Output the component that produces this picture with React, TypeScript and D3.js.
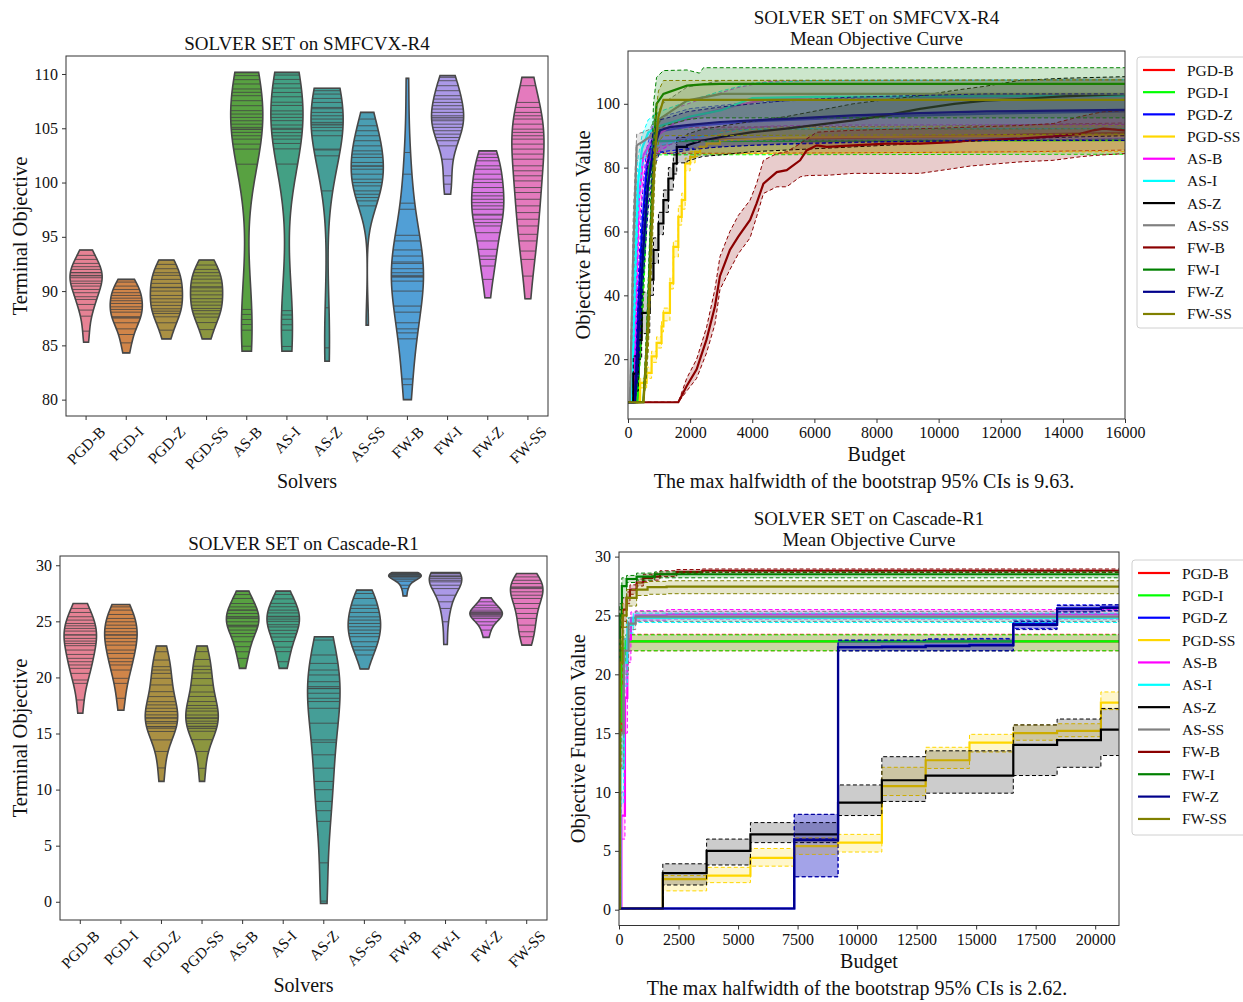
import React, { useEffect, useRef } from 'react';
import * as d3 from 'd3';

const FONT = "'Liberation Serif', 'Times New Roman', serif";

const solvers = ['PGD-B', 'PGD-I', 'PGD-Z', 'PGD-SS', 'AS-B', 'AS-I', 'AS-Z', 'AS-SS', 'FW-B', 'FW-I', 'FW-Z', 'FW-SS'];
const curveColors = ['#ff0000', '#00ff00', '#0000ff', '#ffd700', '#ff00ff', '#00ffff', '#000000', '#808080', '#8b0000', '#008000', '#00008b', '#808000'];
const violinBase = ['#f77189', '#e68332', '#bb9832', '#97a431', '#50b131', '#34af8a', '#36ada4', '#38a9c5', '#3ba3ec', '#a48cf4', '#e866f4', '#f668c2'];

// tick labels
const r4ViolinTicks = [80, 85, 90, 95, 100, 105, 110];
const r1ViolinTicks = [0, 5, 10, 15, 20, 25, 30];
const r4CurveYTicks = [20, 40, 60, 80, 100];
const r4CurveXTicks = [0, 2000, 4000, 6000, 8000, 10000, 12000, 14000, 16000];
const r1CurveYTicks = [0, 5, 10, 15, 20, 25, 30];
const r1CurveXTicks = [0, 2500, 5000, 7500, 10000, 12500, 15000, 17500, 20000];

// terminal objectives, SMFCVX-R4
const r4v_PGD_B = [93.78, 93.29, 92.92, 92.55, 92.25, 92.0, 91.7, 91.69, 91.45, 91.4, 91.23, 90.92, 90.71, 90.46, 90.15, 89.85, 89.48, 89.23, 88.77, 88.25, 87.69, 86.31, 85.29];
const r4v_PGD_I = [91.08, 90.83, 90.46, 90.15, 89.85, 89.6, 89.35, 89.11, 88.86, 88.55, 88.31, 88.06, 87.63, 87.6, 87.51, 87.08, 86.52, 86.0, 85.23, 84.31];
const r4v_PGD_Z = [92.86, 92.46, 92.06, 91.69, 91.45, 91.08, 90.71, 90.35, 90.31, 90.0, 89.6, 89.29, 88.98, 88.68, 88.37, 88.15, 87.94, 87.63, 87.08, 86.4, 85.6];
const r4v_PGD_SS = [92.86, 92.4, 92.0, 91.7, 91.4, 91.1, 90.75, 90.4, 90.3, 90.0, 89.65, 89.3, 89.0, 88.7, 88.4, 88.2, 87.9, 87.6, 87.1, 86.45, 85.6];
const r4v_AS_B = [110.15, 109.85, 109.48, 109.08, 108.62, 108.31, 108.0, 107.54, 107.08, 106.62, 106.31, 106.0, 105.69, 105.38, 105.08, 104.92, 104.9, 104.62, 104.31, 104.0, 103.54, 103.08, 101.69, 88.31, 87.85, 87.38, 86.92, 86.4, 84.92, 84.46];
const r4v_AS_I = [110.15, 109.9, 109.5, 109.1, 108.7, 108.3, 107.9, 107.4, 107.1, 106.6, 106.3, 106.0, 105.7, 105.3, 105.0, 104.9, 104.6, 104.3, 104.0, 103.6, 103.1, 101.7, 88.2, 87.8, 87.4, 86.9, 86.4, 84.9, 84.46];
const r4v_AS_Z = [108.68, 108.46, 108.15, 107.75, 107.38, 106.92, 106.8, 106.46, 106.15, 105.85, 105.54, 105.38, 105.3, 105.08, 104.77, 104.31, 103.08, 103.0, 102.46, 99.23, 88.46, 84.77, 83.54];
const r4v_AS_SS = [106.46, 105.85, 105.23, 104.77, 104.31, 103.85, 103.38, 102.92, 102.62, 102.31, 101.85, 101.54, 101.5, 101.23, 100.77, 100.31, 100.0, 99.69, 99.23, 98.92, 98.62, 98.31, 97.85, 86.86];
const r4v_FW_B = [109.6, 102.77, 100.77, 98.1, 97.54, 95.14, 94.62, 93.79, 93.23, 92.68, 92.55, 92.06, 91.69, 91.45, 91.32, 91.3, 90.92, 90.0, 88.62, 88.06, 87.08, 86.52, 86.15, 85.6, 81.9, 81.38, 80.0];
const r4v_FW_I = [109.85, 109.69, 109.38, 108.92, 108.46, 108.0, 107.69, 107.38, 107.08, 106.77, 106.46, 106.15, 106.0, 105.85, 105.69, 105.38, 105.08, 104.77, 104.46, 104.15, 103.85, 103.38, 102.15, 100.62, 99.85, 98.92];
const r4v_FW_Z = [102.92, 102.62, 102.31, 102.0, 101.54, 101.23, 100.77, 100.31, 100.0, 99.54, 99.08, 98.77, 98.46, 98.15, 97.85, 97.54, 97.08, 97.0, 96.62, 96.31, 96.0, 95.38, 94.62, 93.85, 93.23, 92.92, 92.31, 91.08, 89.38];
const r4v_FW_SS = [109.69, 108.92, 107.38, 106.92, 106.46, 106.15, 105.85, 105.38, 104.92, 104.62, 104.31, 104.0, 103.54, 103.08, 102.62, 102.15, 101.54, 101.08, 100.62, 100.15, 99.54, 99.08, 98.46, 97.85, 97.23, 96.62, 96.0, 95.23, 94.62, 93.69, 92.92, 91.38, 89.29];

// terminal objectives, Cascade-R1
const r1v_PGD_B = [26.59, 26.15, 25.79, 25.41, 25.11, 24.81, 24.6, 24.37, 24.13, 23.8, 23.78, 23.48, 23.24, 23.03, 22.83, 22.44, 22.05, 21.7, 21.4, 21.11, 20.81, 20.36, 19.77, 19.47, 17.99, 16.81];
const r1v_PGD_I = [26.5, 26.29, 26.0, 25.61, 25.26, 24.96, 24.66, 24.37, 24.07, 23.8, 23.77, 23.48, 23.18, 22.88, 22.44, 22.14, 21.7, 21.4, 21.11, 20.66, 19.92, 19.47, 18.14, 17.07];
const r1v_PGD_Z = [22.8, 22.29, 21.55, 20.96, 20.66, 20.36, 19.92, 19.33, 18.73, 18.29, 17.84, 17.55, 17.25, 16.96, 16.66, 16.4, 16.37, 16.07, 15.92, 15.62, 15.6, 15.47, 15.18, 14.43, 13.4, 11.93, 10.73];
const r1v_PGD_SS = [22.8, 22.3, 21.6, 21.0, 20.7, 20.4, 19.9, 19.3, 18.7, 18.3, 17.85, 17.5, 17.25, 17.0, 16.65, 16.4, 16.35, 16.1, 15.9, 15.65, 15.6, 15.45, 15.2, 14.45, 13.4, 11.9, 10.73];
const r1v_AS_B = [27.69, 27.39, 27.04, 26.59, 26.29, 26.0, 26.0, 25.7, 25.4, 25.4, 25.26, 24.96, 24.66, 24.6, 24.51, 24.22, 23.92, 23.63, 23.18, 22.74, 22.29, 21.7, 20.81];
const r1v_AS_I = [27.69, 27.4, 27.0, 26.6, 26.3, 26.0, 25.75, 25.45, 25.4, 25.2, 25.0, 24.7, 24.5, 24.2, 23.9, 23.6, 23.2, 22.7, 22.3, 21.4, 20.81];
const r1v_AS_Z = [23.63, 23.33, 22.0, 21.25, 20.66, 20.22, 19.62, 19.18, 19.03, 19.0, 18.59, 18.14, 17.85, 17.25, 15.92, 14.43, 14.22, 13.1, 11.91, 10.73, 9.99, 8.95, 8.12, 7.17, 3.47, 0.06, -0.15];
const r1v_AS_SS = [27.78, 27.48, 27.04, 26.44, 26.15, 25.79, 25.4, 25.11, 24.81, 24.52, 24.22, 23.92, 23.63, 23.18, 22.74, 22.44, 22.0, 20.75];
const r1v_FW_B = [29.35, 29.3, 29.26, 29.2, 29.17, 29.1, 29.05, 29.0, 28.96, 28.87, 28.75, 28.58, 28.22, 27.92, 27.27];
const r1v_FW_I = [29.35, 29.3, 29.26, 29.11, 29.0, 28.96, 28.81, 28.66, 28.52, 28.22, 27.92, 27.33, 26.74, 26.15, 24.96, 22.94];
const r1v_FW_Z = [27.09, 26.74, 26.44, 26.21, 26.0, 25.85, 25.79, 25.7, 25.61, 25.5, 25.4, 25.26, 24.96, 24.66, 24.22, 23.57];
const r1v_FW_SS = [29.26, 28.96, 28.66, 28.37, 28.07, 28.0, 27.92, 27.63, 27.33, 27.04, 26.59, 26.15, 25.7, 25.26, 24.66, 24.07, 23.63, 22.88];

// mean objective curves, SMFCVX-R4: [budget, mean, lower CI, upper CI]
const r4c_PGD_B = [[0, 6.5, 6.5, 6.5], [300, 6.5, 6.5, 6.5], [450, 40, 30, 50], [600, 75, 65, 82], [750, 86, 82, 90], [900, 88.3, 84.5, 92.5], [3000, 88.8, 84.5, 92.7], [6000, 89.2, 84.6, 92.8], [10000, 89.8, 84.8, 93], [13000, 90.4, 85, 93.5], [16000, 90.9, 85.5, 94]];
const r4c_PGD_I = [[0, 6.5, 6.5, 6.5], [300, 6.5, 6.5, 6.5], [450, 38, 28, 48], [600, 72, 62, 80], [750, 85, 81, 89], [900, 88.3, 84, 92], [16000, 88.6, 84.2, 92.2]];
const r4c_PGD_Z = [[0, 6.5, 6.5, 6.5], [200, 6.5, 6.5, 6.5], [300, 30, 20, 40], [450, 60, 50, 70], [600, 80, 72, 86], [800, 89, 83, 93.5], [1100, 91.5, 85, 96], [2000, 93, 86, 98.5], [4000, 94.5, 87, 100.5], [8000, 96, 88, 102], [12000, 97, 88.5, 102.8], [16000, 97.6, 89, 103.2]];
const r4c_PGD_SS = [[0, 6.5, 6.5, 6.5], [390, 12.6, 11, 14], [600, 15.7, 14, 17.5], [760, 20.9, 19, 22.5], [920, 25.1, 23.5, 27], [1080, 30.3, 28.5, 32], [1140, 34.5, 32, 36], [1350, 43.8, 42, 45.5], [1460, 55.2, 52, 57], [1620, 64.6, 62, 68], [1730, 69.8, 67, 72], [1840, 81.3, 79, 83], [2000, 83.3, 81.5, 85], [2160, 84.9, 83.5, 86.5], [2320, 86.5, 84.3, 88.5], [2530, 87.5, 84.3, 90], [2960, 88.5, 84.3, 91.5], [5100, 89.4, 84.5, 92.5], [10500, 89.8, 84.8, 93], [16000, 90.1, 85, 93.2]];
const r4c_AS_B = [[0, 6.5, 6.5, 6.5], [150, 6.5, 6.5, 6.5], [250, 40, 25, 55], [350, 70, 60, 80], [500, 84, 78, 88], [800, 89, 84, 93], [1500, 94, 88, 98.5], [2500, 97, 90, 102], [3500, 99.5, 92, 105], [4500, 101.5, 93, 107], [6000, 102, 93.3, 107.3], [16000, 102.5, 93.5, 107.5]];
const r4c_AS_I = [[0, 6.5, 6.5, 6.5], [120, 6.5, 6.5, 6.5], [220, 45, 30, 60], [320, 75, 65, 83], [450, 86, 80, 90], [650, 91, 86, 95], [1000, 93, 87, 97.5], [2000, 96, 89, 101], [3000, 98, 91, 104], [4000, 101.8, 92, 106.5], [6000, 102.2, 92.2, 107.3], [16000, 102.5, 92.2, 107.5]];
const r4c_AS_Z = [[0, 6.5, 6.5, 6.5], [170, 15.5, 10, 21], [330, 26, 20, 32], [440, 34.5, 28, 41], [700, 44.9, 40, 50], [820, 54.2, 50, 58], [980, 62.5, 59, 66], [1140, 69.8, 66, 73], [1300, 76.6, 73, 80], [1460, 81.3, 78, 84], [1570, 86.5, 81.5, 89.5], [1900, 87, 82, 90.5], [2400, 88.5, 83.5, 92], [3000, 89.6, 84, 93], [4000, 91.1, 85, 94.5], [5100, 92.2, 85.5, 96], [7250, 94.8, 86.5, 100], [8300, 96.4, 87, 101.3], [9400, 98.4, 87.5, 102.5], [10500, 100, 88, 104.2], [11500, 101, 88.5, 105.5], [12600, 101.5, 89, 107.3], [14000, 102.3, 89.5, 108], [16000, 103, 90, 108.5]];
const r4c_AS_SS = [[0, 6.5, 6.5, 6.5], [60, 6.5, 6.5, 6.5], [170, 54, 40, 65], [280, 87, 82, 90.5], [450, 88, 83, 91], [700, 89.6, 84, 92], [1100, 95.8, 87, 100], [1900, 101, 88, 105.2], [3000, 103.1, 88.5, 107.3], [16000, 103.1, 89, 107.5]];
const r4c_FW_B = [[0, 6.5, 6.5, 6.5], [1620, 6.5, 6.5, 6.5], [1890, 11.6, 10, 14], [2210, 16.8, 14, 20], [2530, 26.2, 22, 30], [2800, 36.6, 31, 42], [2960, 46, 41.8, 52.1], [3280, 54.2, 48, 60], [3550, 58.4, 53, 65], [3930, 63.6, 58, 69.8], [4140, 68.8, 64.6, 75], [4360, 75, 71.9, 82.3], [4790, 78.6, 74, 84.4], [5110, 79.2, 74, 85], [5540, 82.3, 77.1, 87.5], [5750, 85.4, 77.5, 89], [6080, 87, 77.6, 91.1], [6400, 86.5, 77.6, 91.3], [7250, 87, 78.2, 91.7], [8330, 87.5, 78.2, 92], [9400, 87.5, 78.2, 92.2], [10470, 88, 79.7, 92.5], [11010, 88.5, 80.5, 92.7], [12620, 89.1, 81.8, 93.2], [13690, 89.8, 82.3, 93.8], [14550, 90.6, 83.4, 96], [14980, 91.7, 83.8, 96.9], [15300, 92.2, 84, 97.5], [16000, 91.7, 84.4, 97.9]];
const r4c_FW_I = [[0, 6.5, 6.5, 6.5], [490, 6.5, 6.5, 6.5], [600, 23, 15, 30], [710, 54, 45, 62], [820, 85, 78, 100], [920, 100, 90.6, 108.3], [1140, 103.1, 93, 110.4], [1900, 105.7, 95, 110.6], [2300, 106, 95.5, 109.6], [2430, 106.1, 95.6, 111.3], [2960, 106.25, 95.6, 111.3], [16000, 106.25, 95.6, 111.3]];
const r4c_FW_Z = [[0, 6.5, 6.5, 6.5], [230, 6.5, 6.5, 6.5], [330, 26.2, 15, 38], [490, 54, 45, 63], [650, 75, 67, 83], [810, 85.4, 79, 91], [1030, 91.7, 85, 95], [1350, 92.7, 84.3, 95.8], [1900, 93.3, 85.5, 97.5], [2960, 94.3, 86.5, 99], [5100, 95.3, 87.5, 101], [7250, 96.4, 88, 102.1], [9400, 97.1, 88.3, 102.6], [11550, 97.6, 88.5, 103.1], [16000, 98.1, 88.5, 103.1]];
const r4c_FW_SS = [[0, 6.5, 6.5, 6.5], [500, 6.5, 6.5, 6.5], [650, 30, 22, 40], [760, 60, 50, 70], [870, 85, 78, 95], [980, 96, 88, 104], [1140, 101.25, 90, 107.3], [16000, 101.25, 90.5, 107.5]];

// mean objective curves, Cascade-R1
const r1c_PGD_B = [[0, 0.1, 0.1, 0.1], [30, 15, 12, 18], [120, 22, 21, 23], [300, 22.8, 22, 23.4], [21000, 22.8, 22, 23.4]];
const r1c_PGD_I = [[0, 0.1, 0.1, 0.1], [25, 16, 13, 19], [100, 22.2, 21, 23.2], [280, 22.8, 22, 23.35], [21000, 22.85, 22, 23.35]];
const r1c_PGD_Z = [[0, 0.1, 0.1, 0.1], [7360, 6.0, 2.8, 8.1], [9200, 22.3, 22.0, 22.9], [11040, 22.35, 22.0, 22.9], [12880, 22.45, 22.0, 23.0], [14720, 22.5, 22.0, 23.05], [16560, 24.3, 23.9, 24.6], [18400, 25.6, 25.3, 25.9], [20240, 25.7, 25.4, 25.9], [21000, 25.7, 25.4, 25.9]];
const r1c_PGD_SS = [[0, 0.1, 0.1, 0.1], [1840, 2.6, 1.6, 2.9], [3680, 2.9, 2.3, 3.6], [5520, 4.4, 3.7, 5.2], [7360, 5.4, 4.7, 6.1], [9200, 5.7, 4.9, 6.4], [11040, 10.5, 9.7, 12.1], [12880, 12.7, 12.0, 13.8], [14720, 14.2, 13.4, 14.9], [16560, 15.0, 14.4, 15.7], [18400, 15.2, 14.7, 15.8], [20240, 17.6, 17.0, 18.5], [21000, 17.6, 17.0, 18.5]];
const r1c_AS_B = [[0, 0.1, 0.1, 0.1], [100, 8, 6, 10], [250, 18, 15, 21], [350, 23, 21, 24.5], [500, 24.8, 24.3, 25.3], [700, 25.0, 24.6, 25.4], [2000, 25.1, 24.7, 25.5], [21000, 25.2, 24.8, 25.55]];
const r1c_AS_I = [[0, 0.1, 0.1, 0.1], [60, 12, 9, 15], [200, 21, 19, 23], [350, 24.2, 23.5, 24.8], [600, 24.8, 24.4, 25.2], [21000, 24.9, 24.5, 25.3]];
const r1c_AS_Z = [[0, 0.1, 0.1, 0.1], [1840, 3.1, 2.1, 3.9], [3680, 5.0, 3.8, 6.0], [5520, 6.4, 5.7, 7.4], [9200, 9.1, 8.0, 10.6], [11040, 11.0, 9.2, 13.0], [12880, 11.4, 9.9, 13.5], [16560, 14.0, 11.4, 15.7], [18400, 14.4, 12.1, 16.2], [20240, 15.3, 13.1, 17.1], [21000, 15.3, 13.1, 17.1]];
const r1c_AS_SS = [[0, 0.1, 0.1, 0.1], [50, 15, 12, 18], [200, 22, 20, 24], [400, 24.3, 23.8, 24.8], [700, 24.9, 24.5, 25.35], [21000, 25.0, 24.55, 25.4]];
const r1c_FW_B = [[0, 0.1, 0.1, 0.1], [40, 24, 22, 25.5], [150, 25.5, 24.5, 26.5], [320, 26.5, 26, 27], [460, 27.2, 26.8, 27.6], [740, 27.8, 27.5, 28.1], [1020, 28.2, 27.9, 28.5], [1400, 28.3, 28.0, 28.6], [1720, 28.5, 28.3, 28.8], [2420, 28.7, 28.55, 28.9], [3500, 28.8, 28.65, 28.95], [21000, 28.8, 28.65, 28.95]];
const r1c_FW_I = [[0, 0.1, 0.1, 0.1], [30, 25, 24, 26], [120, 27.5, 26.5, 28.2], [320, 28.1, 27.8, 28.4], [740, 28.3, 28.0, 28.6], [1500, 28.5, 28.2, 28.7], [21000, 28.5, 28.2, 28.7]];
const r1c_FW_Z = [[0, 0.1, 0.1, 0.1], [7360, 5.9, 2.8, 8.1], [9200, 22.3, 22.0, 22.9], [11040, 22.3, 22.0, 22.9], [12880, 22.4, 22.0, 23.0], [14720, 22.45, 22.0, 23.0], [16560, 24.2, 23.8, 24.5], [18400, 25.55, 25.3, 25.85], [20240, 25.65, 25.4, 25.9], [21000, 25.65, 25.4, 25.9]];
const r1c_FW_SS = [[0, 0.1, 0.1, 0.1], [30, 21, 19, 23], [150, 25, 24, 26], [320, 26.5, 25.8, 27.2], [740, 27.2, 26.7, 27.8], [1200, 27.4, 26.8, 27.9], [2000, 27.45, 26.85, 27.95], [21000, 27.45, 26.85, 27.95]];

const r4Violins = [r4v_PGD_B, r4v_PGD_I, r4v_PGD_Z, r4v_PGD_SS, r4v_AS_B, r4v_AS_I, r4v_AS_Z, r4v_AS_SS, r4v_FW_B, r4v_FW_I, r4v_FW_Z, r4v_FW_SS];
const r1Violins = [r1v_PGD_B, r1v_PGD_I, r1v_PGD_Z, r1v_PGD_SS, r1v_AS_B, r1v_AS_I, r1v_AS_Z, r1v_AS_SS, r1v_FW_B, r1v_FW_I, r1v_FW_Z, r1v_FW_SS];
const r4Curves = [r4c_PGD_B, r4c_PGD_I, r4c_PGD_Z, r4c_PGD_SS, r4c_AS_B, r4c_AS_I, r4c_AS_Z, r4c_AS_SS, r4c_FW_B, r4c_FW_I, r4c_FW_Z, r4c_FW_SS];
const r1Curves = [r1c_PGD_B, r1c_PGD_I, r1c_PGD_Z, r1c_PGD_SS, r1c_AS_B, r1c_AS_I, r1c_AS_Z, r1c_AS_SS, r1c_FW_B, r1c_FW_I, r1c_FW_Z, r1c_FW_SS];
// budget up to which each R4 curve is drawn as a staircase (rest drawn straight)
const r4StepUntil = { 'PGD-SS': 3000, 'AS-Z': 2000 };

const txt = (g, x, y, s, size, anchor = 'middle') =>
  g.append('text')
    .attr('x', x).attr('y', y)
    .attr('text-anchor', anchor)
    .attr('font-family', FONT)
    .attr('font-size', size)
    .attr('fill', '#111')
    .text(s);

function frame(g, box) {
  g.append('rect')
    .attr('x', box.x0).attr('y', box.y0)
    .attr('width', box.x1 - box.x0).attr('height', box.y1 - box.y0)
    .attr('fill', 'none').attr('stroke', '#333').attr('stroke-width', 1);
}

function yAxis(g, box, y, ticks) {
  const ax = g.append('g').attr('transform', `translate(${box.x0},0)`)
    .call(d3.axisLeft(y).tickValues(ticks).tickSize(4).tickPadding(4).tickSizeOuter(0));
  ax.select('.domain').remove();
  ax.selectAll('line').attr('stroke', '#333');
  ax.selectAll('text').attr('font-family', FONT).attr('font-size', 16).attr('fill', '#111');
}

function drawViolins(svg, box, title, groups, ticks, ylabelX) {
  const g = svg.append('g');
  const all = groups.flat();
  const [mn, mx] = d3.extent(all);
  const pad = (mx - mn) * 0.05;
  const y = d3.scaleLinear().domain([mn - pad, mx + pad]).range([box.y1, box.y0]);
  const x = d3.scaleBand().domain(solvers).range([box.x0, box.x1]);
  const hw = x.bandwidth() * 0.4;

  groups.forEach((vals, i) => {
    const n = vals.length;
    const bw = d3.deviation(vals) * Math.pow(n, -0.2);
    const dens = t => d3.sum(vals, v => Math.exp(-0.5 * ((t - v) / bw) ** 2));
    const [lo, hi] = d3.extent(vals);
    const grid = d3.range(100).map(k => lo + (hi - lo) * k / 99);
    const dg = grid.map(dens);
    const dmax = d3.max(dg);
    const cx = x(solvers[i]) + x.bandwidth() / 2;
    const right = grid.map((t, k) => [cx + dg[k] / dmax * hw, y(t)]);
    const left = grid.map((t, k) => [cx - dg[k] / dmax * hw, y(t)]).reverse();
    const outline = d3.line()([...right, ...left]) + 'Z';
    const c = d3.hsl(violinBase[i]);
    c.s *= 0.75;
    g.append('path').attr('d', outline).attr('fill', c.formatHex()).attr('stroke', 'none');
    vals.forEach(v => {
      const w = Math.min(dens(v) / dmax, 1) * hw;
      g.append('line')
        .attr('x1', cx - w).attr('x2', cx + w)
        .attr('y1', y(v)).attr('y2', y(v))
        .attr('stroke', '#444').attr('stroke-width', 1).attr('stroke-opacity', 0.8);
    });
    g.append('path').attr('d', outline)
      .attr('fill', 'none').attr('stroke', '#474747').attr('stroke-width', 1.6);
  });

  frame(g, box);
  yAxis(g, box, y, ticks);

  // rotated category labels
  solvers.forEach(s => {
    const cx = x(s) + x.bandwidth() / 2;
    g.append('line').attr('x1', cx).attr('x2', cx).attr('y1', box.y1).attr('y2', box.y1 + 4).attr('stroke', '#333');
    const t = g.append('text')
      .attr('font-family', FONT).attr('font-size', 15.5).attr('fill', '#111')
      .attr('text-anchor', 'middle').attr('dominant-baseline', 'central')
      .text(s);
    const L = t.node().getComputedTextLength();
    const h = (L + 15.5 * 0.9) * 0.7071;
    t.attr('transform', `translate(${cx},${box.y1 + 8 + h / 2}) rotate(-45)`);
  });

  const mid = (box.x0 + box.x1) / 2;
  txt(g, mid, box.y0 - 6, title, 19);
  txt(g, mid, box.y1 + 72, 'Solvers', 20);
  txt(g, 0, 0, 'Terminal Objective', 20.5)
    .attr('transform', `translate(${ylabelX},${(box.y0 + box.y1) / 2}) rotate(-90)`);
}

// turn the first part of a curve into explicit stairs; the rest stays straight
function stairs(data, until) {
  const out = [];
  data.forEach((row, i) => {
    out.push(row);
    const next = data[i + 1];
    if (next && next[0] <= until) out.push([next[0], row[1], row[2], row[3]]);
  });
  return out;
}

function drawCurves(svg, box, cfg) {
  const g = svg.append('g');
  const all = cfg.curves.flatMap(c => c.flatMap(p => [p[1], p[2], p[3]]));
  const [mn, mx] = d3.extent(all);
  const pad = (mx - mn) * 0.05;
  const y = d3.scaleLinear().domain([mn - pad, mx + pad]).range([box.y1, box.y0]);
  const x = d3.scaleLinear().domain(cfg.xDomain).range([box.x0, box.x1]);

  const clipId = cfg.id + '-clip';
  g.append('clipPath').attr('id', clipId).append('rect')
    .attr('x', box.x0).attr('y', box.y0).attr('width', box.x1 - box.x0).attr('height', box.y1 - box.y0);
  const plot = g.append('g').attr('clip-path', `url(#${clipId})`);

  cfg.curves.forEach((raw, i) => {
    const col = curveColors[i];
    const data = stairs(raw, cfg.stepUntil(solvers[i]));
    const area = d3.area().x(d => x(d[0])).y0(d => y(d[2])).y1(d => y(d[3]));
    plot.append('path').attr('d', area(data)).attr('fill', col).attr('fill-opacity', 0.2);
    [2, 3].forEach(k => {
      const ln = d3.line().x(d => x(d[0])).y(d => y(d[k]));
      plot.append('path').attr('d', ln(data)).attr('fill', 'none')
        .attr('stroke', col).attr('stroke-width', 1).attr('stroke-dasharray', '4,2.5');
    });
    const mean = d3.line().x(d => x(d[0])).y(d => y(d[1]));
    plot.append('path').attr('d', mean(data)).attr('fill', 'none')
      .attr('stroke', col).attr('stroke-width', 2.2);
  });

  frame(g, box);
  yAxis(g, box, y, cfg.yTicks);
  const ax = g.append('g').attr('transform', `translate(0,${box.y1})`)
    .call(d3.axisBottom(x).tickValues(cfg.xTicks).tickFormat(d3.format('d')).tickSize(4).tickPadding(4).tickSizeOuter(0));
  ax.select('.domain').remove();
  ax.selectAll('line').attr('stroke', '#333');
  ax.selectAll('text').attr('font-family', FONT).attr('font-size', 16).attr('fill', '#111');

  const mid = (box.x0 + box.x1) / 2;
  txt(g, mid, cfg.titleY, cfg.title, 19);
  txt(g, mid, cfg.titleY + 21, 'Mean Objective Curve', 19);
  txt(g, mid, box.y1 + 42, 'Budget', 20);
  txt(g, cfg.captionX, box.y1 + 69, cfg.caption, 20);
  txt(g, 0, 0, 'Objective Function Value', 20.5)
    .attr('transform', `translate(${cfg.ylabelX},${(box.y0 + box.y1) / 2}) rotate(-90)`);

  // legend
  const lg = cfg.legend;
  g.append('rect').attr('x', lg.x).attr('y', lg.y).attr('width', 130).attr('height', lg.h)
    .attr('rx', 3).attr('fill', '#fff').attr('fill-opacity', 0.85).attr('stroke', '#d0d0d0');
  solvers.forEach((s, i) => {
    const yy = lg.y + 13 + i * lg.step;
    g.append('line').attr('x1', lg.x + 6).attr('x2', lg.x + 38).attr('y1', yy).attr('y2', yy)
      .attr('stroke', curveColors[i]).attr('stroke-width', 2.2);
    txt(g, lg.x + 50, yy, s, 15.5, 'start').attr('dominant-baseline', 'central');
  });
}

export default function App() {
  const ref = useRef(null);
  useEffect(() => {
    const svg = d3.select(ref.current);
    svg.selectAll('*').remove();
    svg.append('rect').attr('width', 1243).attr('height', 1002).attr('fill', '#fff');

    drawViolins(svg, { x0: 66, x1: 548, y0: 56, y1: 416 }, 'SOLVER SET on SMFCVX-R4', r4Violins, r4ViolinTicks, 27);
    drawViolins(svg, { x0: 60, x1: 547, y0: 556, y1: 920 }, 'SOLVER SET on Cascade-R1', r1Violins, r1ViolinTicks, 27);

    drawCurves(svg, { x0: 628, x1: 1125, y0: 51, y1: 419 }, {
      id: 'r4', curves: r4Curves, xDomain: [0, 16000], xTicks: r4CurveXTicks, yTicks: r4CurveYTicks,
      stepUntil: s => r4StepUntil[s] ?? 0,
      title: 'SOLVER SET on SMFCVX-R4', titleY: 24,
      caption: 'The max halfwidth of the bootstrap 95% CIs is 9.63.', captionX: 864,
      ylabelX: 590, legend: { x: 1137, y: 57, h: 271, step: 22.18 },
    });
    drawCurves(svg, { x0: 619, x1: 1119, y0: 552, y1: 925.5 }, {
      id: 'r1', curves: r1Curves, xDomain: [0, 21000], xTicks: r1CurveXTicks, yTicks: r1CurveYTicks,
      stepUntil: () => Infinity,
      title: 'SOLVER SET on Cascade-R1', titleY: 525,
      caption: 'The max halfwidth of the bootstrap 95% CIs is 2.62.', captionX: 857,
      ylabelX: 585, legend: { x: 1132, y: 560, h: 275, step: 22.36 },
    });
  }, []);

  return (
    <svg ref={ref} width={1243} height={1002}
      style={{ position: 'absolute', left: 0, top: 0, display: 'block' }} />
  );
}
